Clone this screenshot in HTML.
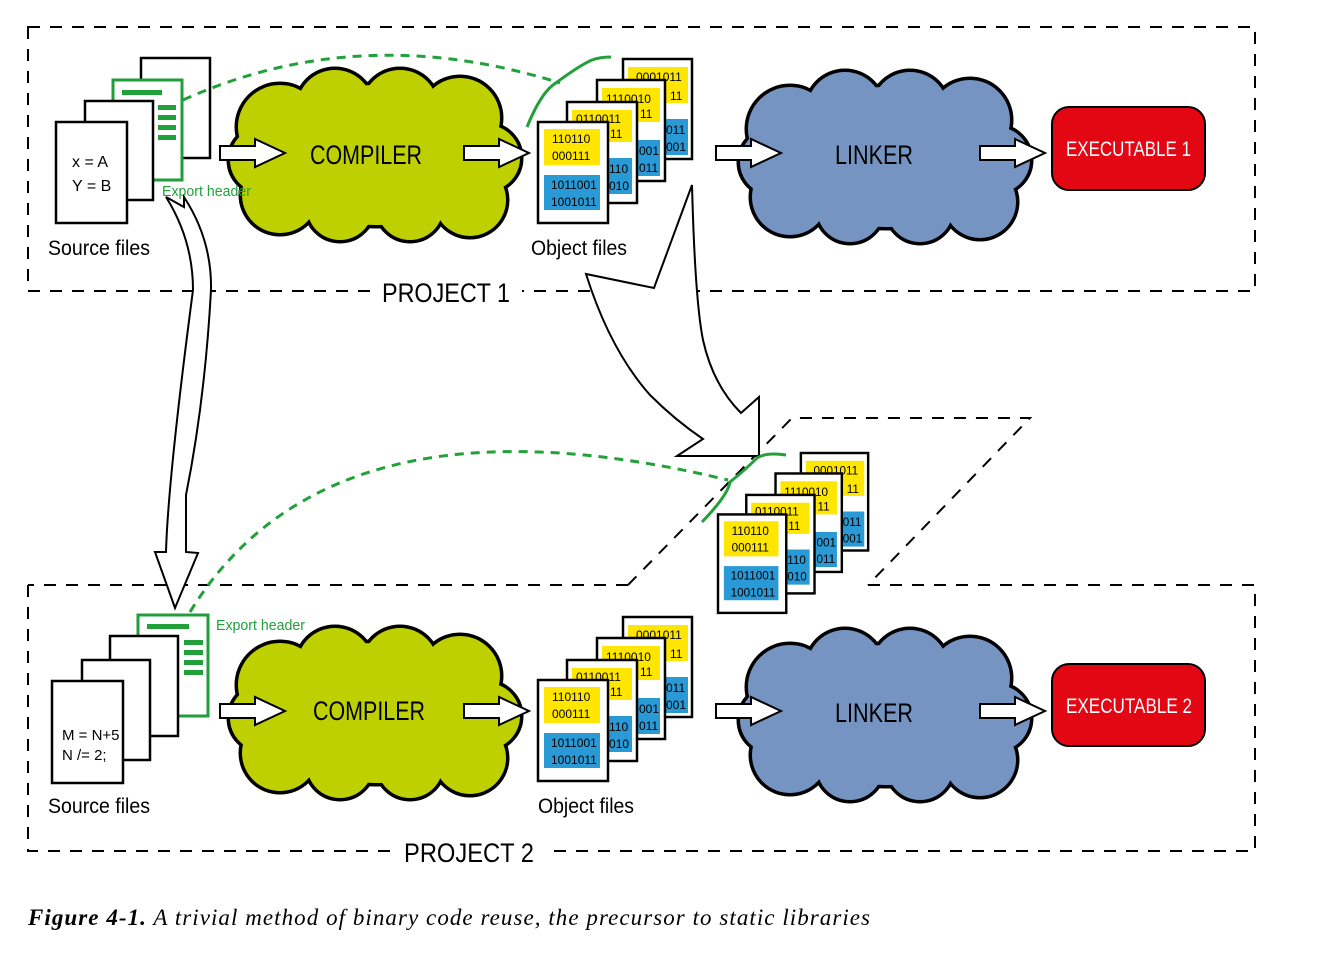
<!DOCTYPE html>
<html><head><meta charset="utf-8"><style>
html,body{margin:0;padding:0;background:#fff}
svg{display:block}
</style></head><body>
<svg width="1320" height="953" viewBox="0 0 1320 953" xmlns="http://www.w3.org/2000/svg" font-family="Liberation Sans, sans-serif">
<defs>
<g id="cloudS" stroke="#000" stroke-width="7">
<circle cx="-95" cy="-28" r="42"/><circle cx="-40" cy="-47" r="38"/><circle cx="25" cy="-47" r="38"/><circle cx="85" cy="-37" r="40"/><circle cx="112" cy="3" r="33"/><circle cx="95" cy="45" r="36"/><circle cx="35" cy="52" r="33"/><circle cx="-35" cy="52" r="33"/><circle cx="-95" cy="40" r="38"/><circle cx="-112" cy="5" r="33"/><ellipse cx="0" cy="0" rx="128" ry="70"/>
</g>
<g id="cloudF">
<circle cx="-95" cy="-28" r="42"/><circle cx="-40" cy="-47" r="38"/><circle cx="25" cy="-47" r="38"/><circle cx="85" cy="-37" r="40"/><circle cx="112" cy="3" r="33"/><circle cx="95" cy="45" r="36"/><circle cx="35" cy="52" r="33"/><circle cx="-35" cy="52" r="33"/><circle cx="-95" cy="40" r="38"/><circle cx="-112" cy="5" r="33"/><ellipse cx="0" cy="0" rx="128" ry="70"/>
</g>
<path id="arr" d="M0,-7 H35 V-14 L65,0 L35,14 V7 H0 Z" fill="#fff" stroke="#000" stroke-width="2"/>
</defs>

<g fill="none" stroke="#000" stroke-width="2" stroke-dasharray="12,10">
<rect x="28" y="27" width="1227" height="264"/>
<path d="M28,585 V851 H1255 V585 H868"/>
<path d="M628,585 H28"/>
<path d="M628,585 L792,418 H1030 L868,585"/>
</g>
<rect x="372" y="276" width="150" height="34" fill="#fff"/>
<text x="382" y="302" font-size="27" textLength="128" lengthAdjust="spacingAndGlyphs">PROJECT 1</text>
<rect x="394" y="836" width="150" height="34" fill="#fff"/>
<text x="404" y="862" font-size="27" textLength="130" lengthAdjust="spacingAndGlyphs">PROJECT 2</text>

<g transform="translate(375,155)"><use href="#cloudS"/><use href="#cloudF" fill="#bfd000"/></g>
<g transform="translate(885,157)"><use href="#cloudS"/><use href="#cloudF" fill="#7594c2"/></g>
<g transform="translate(375,713)"><use href="#cloudS"/><use href="#cloudF" fill="#bfd000"/></g>
<g transform="translate(885,715)"><use href="#cloudS"/><use href="#cloudF" fill="#7594c2"/></g>
<text x="310" y="164" font-size="27" textLength="112" lengthAdjust="spacingAndGlyphs">COMPILER</text>
<text x="835" y="164" font-size="27" textLength="78" lengthAdjust="spacingAndGlyphs">LINKER</text>
<text x="313" y="720" font-size="27" textLength="112" lengthAdjust="spacingAndGlyphs">COMPILER</text>
<text x="835" y="722" font-size="27" textLength="78" lengthAdjust="spacingAndGlyphs">LINKER</text>

<use href="#arr" x="220" y="153"/><use href="#arr" x="464" y="153"/><use href="#arr" x="716" y="153"/><use href="#arr" x="980" y="153"/>
<use href="#arr" x="220" y="711"/><use href="#arr" x="464" y="711"/><use href="#arr" x="716" y="711"/><use href="#arr" x="980" y="711"/>

<rect x="1052" y="107" width="153" height="83" rx="17" fill="#e30613" stroke="#000" stroke-width="2"/>
<text x="1066" y="156" font-size="21" fill="#fff" textLength="125" lengthAdjust="spacingAndGlyphs">EXECUTABLE 1</text>
<rect x="1052" y="664" width="153" height="82" rx="17" fill="#e30613" stroke="#000" stroke-width="2"/>
<text x="1066" y="713" font-size="21" fill="#fff" textLength="126" lengthAdjust="spacingAndGlyphs">EXECUTABLE 2</text>

<g stroke="#000" stroke-width="2.5" fill="#fff">
<rect x="141" y="58" width="69" height="100"/>
<rect x="113" y="80" width="69" height="100" stroke="#1f9e3a" stroke-width="3"/>
</g>
<g fill="#22a03a"><rect x="122" y="90" width="40" height="5"/><rect x="158" y="105" width="18" height="5"/><rect x="158" y="115" width="18" height="5"/><rect x="158" y="125" width="18" height="5"/><rect x="158" y="135" width="18" height="5"/></g>
<g stroke="#000" stroke-width="2.5" fill="#fff">
<rect x="85" y="101" width="68" height="99"/>
<rect x="56" y="122" width="71" height="101"/>
</g>
<text x="72" y="167" font-size="16">x = A</text>
<text x="72" y="191" font-size="16">Y = B</text>
<text x="162" y="196" font-size="15" fill="#22a03a" textLength="89" lengthAdjust="spacingAndGlyphs">Export header</text>
<text x="48" y="255" font-size="21" textLength="102" lengthAdjust="spacingAndGlyphs">Source files</text>

<rect x="138" y="615" width="70" height="101" fill="#fff" stroke="#1f9e3a" stroke-width="3"/>
<g fill="#22a03a"><rect x="147" y="624" width="42" height="5"/><rect x="184" y="640" width="19" height="5"/><rect x="184" y="650" width="19" height="5"/><rect x="184" y="660" width="19" height="5"/><rect x="184" y="670" width="19" height="5"/></g>
<g stroke="#000" stroke-width="2.5" fill="#fff">
<rect x="110" y="636" width="68" height="100"/>
<rect x="82" y="660" width="68" height="100"/>
<rect x="52" y="681" width="71" height="102"/>
</g>
<text x="62" y="740" font-size="15">M = N+5</text>
<text x="62" y="760" font-size="15">N /= 2;</text>
<text x="216" y="630" font-size="15" fill="#22a03a" textLength="89" lengthAdjust="spacingAndGlyphs">Export header</text>
<text x="48" y="813" font-size="21" textLength="102" lengthAdjust="spacingAndGlyphs">Source files</text>

<path d="M166,197 L184,207 L184,197 Q212,240 211,290 Q205,400 186,495 L186,552 L198,553 L175,608 L155,552 L166,552 Q168,480 193,290 Q193,240 166,197 Z" fill="#fff" stroke="#000" stroke-width="2"/>
<path d="M692,185 L654,288 L586,274 Q610,350 650,395 Q675,420 703,439 L677,456 L759,456 L759,397 L741,413 Q713,385 703,340 Q695,300 692,185 Z" fill="#fff" stroke="#000" stroke-width="2"/>

<g fill="none" stroke="#22a03a" stroke-width="3">
<path d="M183,100 Q360,20 560,83" stroke-dasharray="9,7"/>
<path d="M527,127 Q540,95 553,85 Q580,65 592,60 Q600,57 611,57"/>
<path d="M190,612 Q330,384 728,480" stroke-dasharray="9,7"/>
<path d="M702,522 Q728,495 730,482 Q745,470 757,458 Q766,452 786,455"/>
</g>

<g font-size="12">
<rect x="623" y="59" width="69" height="100" fill="#fff" stroke="#000" stroke-width="2.5"/>
<rect x="628" y="67" width="60" height="36" fill="#ffe600"/><rect x="664" y="119" width="24" height="36" fill="#2a9ad6"/>
<text x="636" y="81">0001011</text><text x="670" y="100">11</text><text x="666" y="134">011</text><text x="666" y="151">001</text>
<rect x="597" y="80" width="68" height="101" fill="#fff" stroke="#000" stroke-width="2.5"/>
<rect x="602" y="88" width="58" height="34" fill="#ffe600"/><rect x="637" y="140" width="23" height="36" fill="#2a9ad6"/>
<text x="606" y="103">1110010</text><text x="640" y="118">11</text><text x="639" y="155">001</text><text x="639" y="172">011</text>
<rect x="567" y="102" width="70" height="101" fill="#fff" stroke="#000" stroke-width="2.5"/>
<rect x="572" y="110" width="60" height="32" fill="#ffe600"/><rect x="607" y="158" width="25" height="36" fill="#2a9ad6"/>
<text x="576" y="123">0110011</text><text x="610" y="138">11</text><text x="609" y="173">110</text><text x="609" y="190">010</text>
<rect x="538" y="122" width="70" height="101" fill="#fff" stroke="#000" stroke-width="2.5"/>
<rect x="544" y="129" width="56" height="36" fill="#ffe600"/><rect x="544" y="175" width="56" height="35" fill="#2a9ad6"/>
<text x="552" y="143">110110</text><text x="552" y="160">000111</text><text x="551" y="189">1011001</text><text x="551" y="206">1001011</text>
</g>
<g transform="translate(0,558)" font-size="12">
<rect x="623" y="59" width="69" height="100" fill="#fff" stroke="#000" stroke-width="2.5"/>
<rect x="628" y="67" width="60" height="36" fill="#ffe600"/><rect x="664" y="119" width="24" height="36" fill="#2a9ad6"/>
<text x="636" y="81">0001011</text><text x="670" y="100">11</text><text x="666" y="134">011</text><text x="666" y="151">001</text>
<rect x="597" y="80" width="68" height="101" fill="#fff" stroke="#000" stroke-width="2.5"/>
<rect x="602" y="88" width="58" height="34" fill="#ffe600"/><rect x="637" y="140" width="23" height="36" fill="#2a9ad6"/>
<text x="606" y="103">1110010</text><text x="640" y="118">11</text><text x="639" y="155">001</text><text x="639" y="172">011</text>
<rect x="567" y="102" width="70" height="101" fill="#fff" stroke="#000" stroke-width="2.5"/>
<rect x="572" y="110" width="60" height="32" fill="#ffe600"/><rect x="607" y="158" width="25" height="36" fill="#2a9ad6"/>
<text x="576" y="123">0110011</text><text x="610" y="138">11</text><text x="609" y="173">110</text><text x="609" y="190">010</text>
<rect x="538" y="122" width="70" height="101" fill="#fff" stroke="#000" stroke-width="2.5"/>
<rect x="544" y="129" width="56" height="36" fill="#ffe600"/><rect x="544" y="175" width="56" height="35" fill="#2a9ad6"/>
<text x="552" y="143">110110</text><text x="552" y="160">000111</text><text x="551" y="189">1011001</text><text x="551" y="206">1001011</text>
</g>
<g transform="translate(718,453) scale(0.975) translate(-538,-59)" font-size="12">
<rect x="623" y="59" width="69" height="100" fill="#fff" stroke="#000" stroke-width="2.5"/>
<rect x="628" y="67" width="60" height="36" fill="#ffe600"/><rect x="664" y="119" width="24" height="36" fill="#2a9ad6"/>
<text x="636" y="81">0001011</text><text x="670" y="100">11</text><text x="666" y="134">011</text><text x="666" y="151">001</text>
<rect x="597" y="80" width="68" height="101" fill="#fff" stroke="#000" stroke-width="2.5"/>
<rect x="602" y="88" width="58" height="34" fill="#ffe600"/><rect x="637" y="140" width="23" height="36" fill="#2a9ad6"/>
<text x="606" y="103">1110010</text><text x="640" y="118">11</text><text x="639" y="155">001</text><text x="639" y="172">011</text>
<rect x="567" y="102" width="70" height="101" fill="#fff" stroke="#000" stroke-width="2.5"/>
<rect x="572" y="110" width="60" height="32" fill="#ffe600"/><rect x="607" y="158" width="25" height="36" fill="#2a9ad6"/>
<text x="576" y="123">0110011</text><text x="610" y="138">11</text><text x="609" y="173">110</text><text x="609" y="190">010</text>
<rect x="538" y="122" width="70" height="101" fill="#fff" stroke="#000" stroke-width="2.5"/>
<rect x="544" y="129" width="56" height="36" fill="#ffe600"/><rect x="544" y="175" width="56" height="35" fill="#2a9ad6"/>
<text x="552" y="143">110110</text><text x="552" y="160">000111</text><text x="551" y="189">1011001</text><text x="551" y="206">1001011</text>
</g>
<text x="531" y="255" font-size="21" textLength="96" lengthAdjust="spacingAndGlyphs">Object files</text>
<text x="538" y="813" font-size="21" textLength="96" lengthAdjust="spacingAndGlyphs">Object files</text>

<text x="28" y="925" style="font-family:'Liberation Serif',serif" font-size="23" font-style="italic" textLength="842" lengthAdjust="spacing"><tspan font-weight="bold">Figure 4-1.</tspan>  A trivial method of binary code reuse, the precursor to static libraries</text>
</svg>
</body></html>
